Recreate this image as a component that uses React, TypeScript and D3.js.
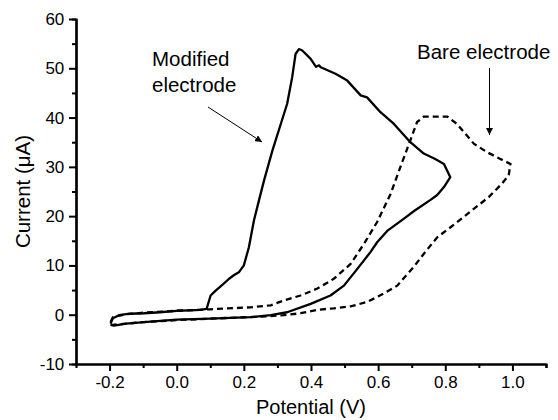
import React, { useEffect, useRef } from 'react'
import * as d3 from 'd3'

// potential (V), current (uA)
const modifiedPotential = [
  -0.197, -0.19, -0.172, -0.14, -0.097, -0.05, 0.0, 0.04, 0.07, 0.089, 0.101, 0.116, 0.135, 0.156, 0.17, 0.185,
  0.2, 0.215, 0.23, 0.245, 0.26, 0.285, 0.31, 0.329, 0.344, 0.354, 0.364, 0.374, 0.399, 0.415, 0.424, 0.429,
  0.473, 0.508, 0.548, 0.567, 0.607, 0.647, 0.696, 0.736, 0.77, 0.796, 0.815,
  0.796, 0.776, 0.756, 0.706, 0.677, 0.627, 0.597, 0.577, 0.538, 0.498, 0.458, 0.399, 0.329, 0.28, 0.22, 0.1,
  0.0, -0.097, -0.15, -0.187, -0.197,
]
const modifiedCurrent = [
  -1.8, -0.7, -0.1, 0.2, 0.3, 0.5, 0.8, 0.9, 1.0, 1.2, 3.9, 4.9, 6.0, 7.3, 8.0, 8.6,
  10.0, 13.7, 19.1, 23.2, 27.2, 33.3, 38.7, 42.8, 48.2, 52.9, 53.9, 53.6, 51.9, 50.3, 50.6, 50.2,
  48.9, 47.5, 44.5, 44.1, 41.1, 38.7, 35.0, 32.7, 31.6, 30.6, 27.9,
  25.9, 24.3, 23.3, 21.0, 19.5, 17.0, 14.7, 12.7, 9.3, 5.9, 3.9, 2.2, 0.5, -0.1, -0.5, -0.8,
  -1.0, -1.5, -1.8, -2.2, -2.0,
]

const barePotential = [
  -0.197, -0.19, -0.15, -0.1, 0.0, 0.1, 0.22, 0.28, 0.319, 0.369, 0.419, 0.468, 0.518, 0.558, 0.597, 0.637,
  0.667, 0.696, 0.716, 0.736, 0.806, 0.835, 0.885, 0.924, 0.964, 0.994,
  0.989, 0.969, 0.93, 0.88, 0.83, 0.776, 0.741, 0.706, 0.657, 0.617, 0.568, 0.518, 0.468, 0.419, 0.369, 0.319,
  0.25, 0.1, 0.0, -0.1, -0.197,
]
const bareCurrent = [
  -1.5, -0.5, 0.1, 0.4, 0.8, 1.1, 1.5, 1.9, 2.9, 3.9, 5.3, 7.3, 10.3, 14.4, 18.8, 24.5,
  30.1, 35.4, 39.1, 40.2, 40.2, 38.7, 34.7, 33.0, 31.6, 30.6,
  28.3, 26.6, 23.9, 21.2, 18.5, 15.7, 12.8, 9.7, 5.9, 4.3, 2.6, 1.7, 1.3, 1.0, 0.3, -0.1,
  -0.4, -0.8, -1.1, -1.5, -2.1,
]

const xMajor = [-0.2, 0.0, 0.2, 0.4, 0.6, 0.8, 1.0]
const xMinor = [-0.1, 0.1, 0.3, 0.5, 0.7, 0.9, 1.1]
const yMajor = [-10, 0, 10, 20, 30, 40, 50, 60]
const yMinor = [-5, 5, 15, 25, 35, 45, 55]

const W = 558
const H = 420
const FONT = '"Liberation Sans", Arial, sans-serif'

const App = () => {
  const ref = useRef<SVGSVGElement>(null)

  useEffect(() => {
    const svg = d3.select(ref.current)
    svg.selectAll('*').remove()

    const x = d3.scaleLinear().domain([-0.3, 1.1]).range([76, 546])
    const y = d3.scaleLinear().domain([-10, 60]).range([364, 19])

    const line = d3.line<[number, number]>()
      .x(d => x(d[0]))
      .y(d => y(d[1]))

    const modified = modifiedPotential.map((p, i) => [p, modifiedCurrent[i]] as [number, number])
    const bare = barePotential.map((p, i) => [p, bareCurrent[i]] as [number, number])

    svg.append('defs').append('marker')
      .attr('id', 'arrow')
      .attr('viewBox', '0 0 10 10')
      .attr('refX', 10)
      .attr('refY', 5)
      .attr('markerWidth', 7)
      .attr('markerHeight', 7)
      .attr('markerUnits', 'userSpaceOnUse')
      .attr('orient', 'auto')
      .append('path')
      .attr('d', 'M0,0 L10,5 L0,10 z')
      .attr('fill', '#000')

    svg.append('path')
      .attr('d', line(bare))
      .attr('fill', 'none')
      .attr('stroke', '#000')
      .attr('stroke-width', 2.3)
      .attr('stroke-dasharray', '6,4')

    svg.append('path')
      .attr('d', line(modified))
      .attr('fill', 'none')
      .attr('stroke', '#000')
      .attr('stroke-width', 2.3)
      .attr('stroke-linejoin', 'round')

    // axes
    const xAxis = svg.append('g').attr('transform', `translate(0,${y(-10)})`)
    xAxis.call(d3.axisBottom(x).tickValues(xMajor).tickSize(7).tickSizeOuter(0).tickFormat(d => (+d).toFixed(1)))
    xAxis.call(g => g.append('g').call(d3.axisBottom(x).tickValues(xMinor).tickSize(4).tickFormat(() => '')))
    xAxis.selectAll('.domain').attr('stroke-width', 2.2)

    const yAxis = svg.append('g').attr('transform', `translate(${x(-0.3)},0)`)
    yAxis.call(d3.axisLeft(y).tickValues(yMajor).tickSize(7).tickSizeOuter(0).tickFormat(d => String(d)))
    yAxis.call(g => g.append('g').call(d3.axisLeft(y).tickValues(yMinor).tickSize(4).tickFormat(() => '')))
    yAxis.selectAll('.domain').attr('stroke-width', 2.2)

    svg.selectAll('.tick line').attr('stroke-width', 2)
    svg.selectAll('.tick text')
      .attr('font-family', FONT)
      .attr('font-size', 17)
      .attr('fill', '#000')
    xAxis.selectAll('.tick text').attr('dy', '0.8em')
    yAxis.selectAll('.tick text').attr('dx', '-0.1em')

    svg.append('text')
      .attr('x', (x(-0.3) + x(1.1)) / 2)
      .attr('y', 414)
      .attr('text-anchor', 'middle')
      .attr('font-family', FONT)
      .attr('font-size', 20)
      .text('Potential (V)')

    svg.append('text')
      .attr('transform', `translate(30,${(y(-10) + y(60)) / 2}) rotate(-90)`)
      .attr('text-anchor', 'middle')
      .attr('font-family', FONT)
      .attr('font-size', 20.5)
      .text('Current (μA)')

    // annotations
    svg.append('text')
      .attr('x', 152)
      .attr('y', 65.5)
      .attr('font-family', FONT)
      .attr('font-size', 20.5)
      .text('Modified')
    svg.append('text')
      .attr('x', 152)
      .attr('y', 91.5)
      .attr('font-family', FONT)
      .attr('font-size', 20.5)
      .text('electrode')
    svg.append('line')
      .attr('x1', 208).attr('y1', 107)
      .attr('x2', 262).attr('y2', 142)
      .attr('stroke', '#000')
      .attr('stroke-width', 1)
      .attr('marker-end', 'url(#arrow)')

    svg.append('text')
      .attr('x', 417)
      .attr('y', 59)
      .attr('font-family', FONT)
      .attr('font-size', 20.5)
      .text('Bare electrode')
    svg.append('line')
      .attr('x1', 489.5).attr('y1', 68)
      .attr('x2', 489.5).attr('y2', 135)
      .attr('stroke', '#000')
      .attr('stroke-width', 1)
      .attr('marker-end', 'url(#arrow)')
  }, [])

  return (
    <svg
      ref={ref}
      width={W}
      height={H}
      viewBox={`0 0 ${W} ${H}`}
      style={{ position: 'absolute', left: 0, top: 0, background: '#fff' }}
    />
  )
}

export default App
